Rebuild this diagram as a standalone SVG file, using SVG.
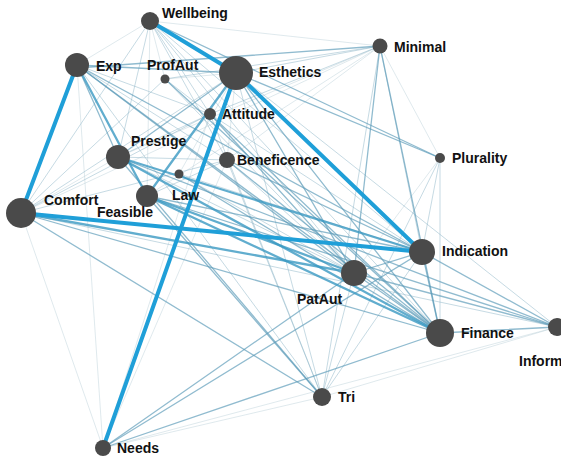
<svg xmlns="http://www.w3.org/2000/svg" width="561" height="458" viewBox="0 0 561 458">
<style>
.bg{fill:#ffffff}
line{stroke-linecap:round;fill:none}
.t1{stroke:#1f9fd8;stroke-width:4}
.t2{stroke:#3a98c2;stroke-width:2.3;opacity:0.8}
.t3{stroke:#5b9bb8;stroke-width:1.3;opacity:0.68}
.t4{stroke:#8db5c8;stroke-width:1;opacity:0.5}
.t5{stroke:#b5ccd6;stroke-width:0.8;opacity:0.55}
.n{fill:#4a4a4a}
.lb{font-family:"Liberation Sans",Arial,sans-serif;font-weight:bold;font-size:14px;fill:#111}
</style>
<rect class="bg" x="0" y="0" width="561" height="458"/>
<g id="connectors">
<line class="t5" x1="150" y1="21" x2="380" y2="46"/>
<line class="t5" x1="77" y1="65" x2="103" y2="448"/>
<line class="t5" x1="21" y1="213" x2="103" y2="448"/>
<line class="t5" x1="103" y1="448" x2="227" y2="160"/>
<line class="t5" x1="103" y1="448" x2="210" y2="114"/>
<line class="t5" x1="380" y1="46" x2="440" y2="158"/>
<line class="t5" x1="440" y1="158" x2="354" y2="273"/>
<line class="t5" x1="21" y1="213" x2="118" y2="157"/>
<line class="t5" x1="77" y1="65" x2="150" y2="21"/>
<line class="t5" x1="150" y1="21" x2="165" y2="79"/>
<line class="t5" x1="150" y1="21" x2="147" y2="196"/>
<line class="t5" x1="236" y1="73" x2="227" y2="160"/>
<line class="t5" x1="236" y1="73" x2="179" y2="174"/>
<line class="t5" x1="236" y1="73" x2="165" y2="79"/>
<line class="t5" x1="380" y1="46" x2="21" y2="213"/>
<line class="t5" x1="380" y1="46" x2="147" y2="196"/>
<line class="t5" x1="380" y1="46" x2="118" y2="157"/>
<line class="t5" x1="380" y1="46" x2="227" y2="160"/>
<line class="t5" x1="322" y1="397" x2="557" y2="327"/>
<line class="t5" x1="103" y1="448" x2="557" y2="327"/>
<line class="t5" x1="103" y1="448" x2="322" y2="397"/>
<line class="t4" x1="150" y1="21" x2="21" y2="213"/>
<line class="t4" x1="150" y1="21" x2="118" y2="157"/>
<line class="t4" x1="150" y1="21" x2="210" y2="114"/>
<line class="t4" x1="150" y1="21" x2="227" y2="160"/>
<line class="t4" x1="150" y1="21" x2="354" y2="273"/>
<line class="t4" x1="150" y1="21" x2="440" y2="333"/>
<line class="t4" x1="150" y1="21" x2="422" y2="252"/>
<line class="t4" x1="380" y1="46" x2="236" y2="73"/>
<line class="t4" x1="380" y1="46" x2="165" y2="79"/>
<line class="t4" x1="380" y1="46" x2="210" y2="114"/>
<line class="t4" x1="380" y1="46" x2="422" y2="252"/>
<line class="t4" x1="380" y1="46" x2="322" y2="397"/>
<line class="t4" x1="236" y1="73" x2="322" y2="397"/>
<line class="t4" x1="210" y1="114" x2="322" y2="397"/>
<line class="t4" x1="227" y1="160" x2="322" y2="397"/>
<line class="t4" x1="354" y1="273" x2="322" y2="397"/>
<line class="t4" x1="422" y1="252" x2="322" y2="397"/>
<line class="t4" x1="21" y1="213" x2="227" y2="160"/>
<line class="t4" x1="21" y1="213" x2="210" y2="114"/>
<line class="t4" x1="21" y1="213" x2="165" y2="79"/>
<line class="t4" x1="21" y1="213" x2="236" y2="73"/>
<line class="t4" x1="21" y1="213" x2="557" y2="327"/>
<line class="t4" x1="77" y1="65" x2="227" y2="160"/>
<line class="t4" x1="77" y1="65" x2="210" y2="114"/>
<line class="t4" x1="77" y1="65" x2="322" y2="397"/>
<line class="t4" x1="118" y1="157" x2="227" y2="160"/>
<line class="t4" x1="118" y1="157" x2="210" y2="114"/>
<line class="t4" x1="147" y1="196" x2="227" y2="160"/>
<line class="t4" x1="179" y1="174" x2="354" y2="273"/>
<line class="t4" x1="179" y1="174" x2="422" y2="252"/>
<line class="t4" x1="165" y1="79" x2="354" y2="273"/>
<line class="t4" x1="165" y1="79" x2="210" y2="114"/>
<line class="t4" x1="227" y1="160" x2="354" y2="273"/>
<line class="t4" x1="440" y1="158" x2="422" y2="252"/>
<line class="t4" x1="440" y1="158" x2="440" y2="333"/>
<line class="t4" x1="440" y1="158" x2="322" y2="397"/>
<line class="t4" x1="236" y1="73" x2="557" y2="327"/>
<line class="t4" x1="210" y1="114" x2="422" y2="252"/>
<line class="t4" x1="118" y1="157" x2="354" y2="273"/>
<line class="t3" x1="77" y1="65" x2="118" y2="157"/>
<line class="t3" x1="77" y1="65" x2="422" y2="252"/>
<line class="t3" x1="77" y1="65" x2="354" y2="273"/>
<line class="t3" x1="77" y1="65" x2="440" y2="333"/>
<line class="t3" x1="77" y1="65" x2="236" y2="73"/>
<line class="t3" x1="77" y1="68" x2="380" y2="46"/>
<line class="t3" x1="236" y1="73" x2="354" y2="273"/>
<line class="t3" x1="236" y1="73" x2="440" y2="333"/>
<line class="t3" x1="236" y1="73" x2="118" y2="157"/>
<line class="t3" x1="118" y1="157" x2="322" y2="397"/>
<line class="t3" x1="147" y1="196" x2="322" y2="397"/>
<line class="t3" x1="21" y1="213" x2="322" y2="397"/>
<line class="t3" x1="380" y1="46" x2="354" y2="273"/>
<line class="t3" x1="380" y1="46" x2="440" y2="333"/>
<line class="t3" x1="422" y1="252" x2="440" y2="333"/>
<line class="t3" x1="422" y1="252" x2="557" y2="327"/>
<line class="t3" x1="354" y1="273" x2="557" y2="327"/>
<line class="t3" x1="440" y1="333" x2="557" y2="327"/>
<line class="t3" x1="118" y1="157" x2="557" y2="327"/>
<line class="t3" x1="147" y1="196" x2="557" y2="327"/>
<line class="t3" x1="103" y1="448" x2="354" y2="273"/>
<line class="t3" x1="103" y1="448" x2="440" y2="333"/>
<line class="t3" x1="103" y1="448" x2="422" y2="252"/>
<line class="t3" x1="165" y1="79" x2="440" y2="333"/>
<line class="t3" x1="210" y1="114" x2="440" y2="333"/>
<line class="t3" x1="227" y1="160" x2="440" y2="333"/>
<line class="t3" x1="179" y1="174" x2="440" y2="333"/>
<line class="t3" x1="227" y1="160" x2="422" y2="252"/>
<line class="t3" x1="354" y1="273" x2="440" y2="333"/>
<line class="t3" x1="236" y1="73" x2="440" y2="158"/>
<line class="t3" x1="150" y1="21" x2="440" y2="158"/>
<line class="t3" x1="210" y1="114" x2="354" y2="273"/>
<line class="t3" x1="354" y1="273" x2="422" y2="252"/>
<line class="t3" x1="147" y1="196" x2="422" y2="252"/>
<line class="t3" x1="21" y1="213" x2="440" y2="333"/>
<line class="t2" x1="236" y1="73" x2="147" y2="196"/>
<line class="t2" x1="118" y1="157" x2="440" y2="333"/>
<line class="t2" x1="147" y1="196" x2="440" y2="333"/>
<line class="t2" x1="21" y1="213" x2="354" y2="273"/>
<line class="t2" x1="118" y1="157" x2="422" y2="252"/>
<line class="t2" x1="147" y1="196" x2="354" y2="273"/>
<line class="t2" x1="77" y1="65" x2="147" y2="196"/>
<line class="t1" x1="150" y1="21" x2="236" y2="73"/>
<line class="t1" x1="77" y1="65" x2="21" y2="213"/>
<line class="t1" x1="236" y1="73" x2="103" y2="448"/>
<line class="t1" x1="236" y1="73" x2="422" y2="252"/>
<line class="t1" x1="21" y1="213" x2="422" y2="252"/>
</g>
<g id="node-wellbeing"><circle class="n" cx="150" cy="21" r="9"/><text class="lb" x="162" y="18">Wellbeing</text></g>
<g id="node-exp"><circle class="n" cx="77" cy="65" r="12"/><text class="lb" x="96" y="71">Exp</text></g>
<g id="node-profaut"><circle class="n" cx="165" cy="79" r="4.5"/><text class="lb" x="147" y="70">ProfAut</text></g>
<g id="node-esthetics"><circle class="n" cx="236" cy="73" r="17"/><text class="lb" x="259" y="77">Esthetics</text></g>
<g id="node-minimal"><circle class="n" cx="380" cy="46" r="7.5"/><text class="lb" x="394" y="52">Minimal</text></g>
<g id="node-attitude"><circle class="n" cx="210" cy="114" r="6"/><text class="lb" x="222" y="119">Attitude</text></g>
<g id="node-plurality"><circle class="n" cx="440" cy="158" r="5"/><text class="lb" x="452" y="163">Plurality</text></g>
<g id="node-prestige"><circle class="n" cx="118" cy="157" r="12"/><text class="lb" x="131" y="146">Prestige</text></g>
<g id="node-beneficence"><circle class="n" cx="227" cy="160" r="8"/><text class="lb" x="237" y="165">Beneficence</text></g>
<g id="node-law"><circle class="n" cx="179" cy="174" r="4.5"/><text class="lb" x="172" y="200">Law</text></g>
<g id="node-feasible"><circle class="n" cx="147" cy="196" r="11"/><text class="lb" x="97" y="217">Feasible</text></g>
<g id="node-comfort"><circle class="n" cx="21" cy="213" r="15"/><text class="lb" x="44" y="205">Comfort</text></g>
<g id="node-indication"><circle class="n" cx="422" cy="252" r="13"/><text class="lb" x="442" y="256">Indication</text></g>
<g id="node-pataut"><circle class="n" cx="354" cy="273" r="13"/><text class="lb" x="297" y="304">PatAut</text></g>
<g id="node-finance"><circle class="n" cx="440" cy="333" r="14"/><text class="lb" x="461" y="338">Finance</text></g>
<g id="node-inform"><circle class="n" cx="557" cy="327" r="9"/><text class="lb" x="519" y="366">Inform</text></g>
<g id="node-tri"><circle class="n" cx="322" cy="397" r="9"/><text class="lb" x="338" y="402">Tri</text></g>
<g id="node-needs"><circle class="n" cx="103" cy="448" r="8"/><text class="lb" x="117" y="453">Needs</text></g>
</svg>
